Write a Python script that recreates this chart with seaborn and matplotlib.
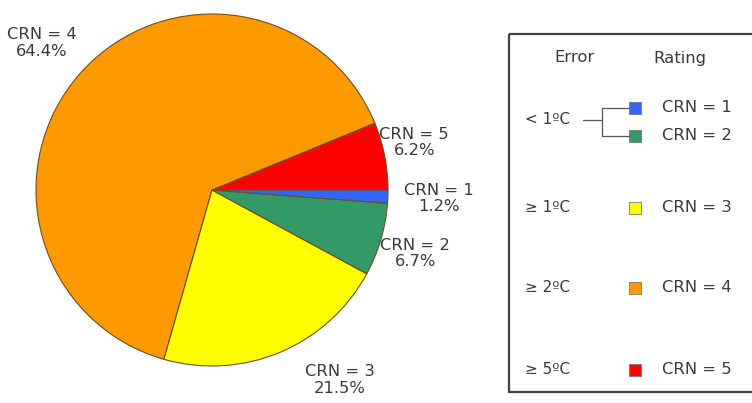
import numpy as np
import matplotlib
matplotlib.use("Agg")
import matplotlib.pyplot as plt
from matplotlib.patches import Rectangle
import seaborn as sns

# data (order = counter-clockwise from 3 o'clock)
ratings = ["CRN = 5", "CRN = 4", "CRN = 3", "CRN = 2", "CRN = 1"]
shares = [6.2, 64.4, 21.5, 6.7, 1.2]
colors = ["#FF0000", "#FF9900", "#FFFF00", "#339966", "#3366FF"]

# legend table
legend_ratings = ["CRN = 1", "CRN = 2", "CRN = 3", "CRN = 4", "CRN = 5"]
legend_colors = ["#3366FF", "#339966", "#FFFF00", "#FF9900", "#FF0000"]
error_labels = ["< 1ºC", "≥ 1ºC", "≥ 2ºC", "≥ 5ºC"]

sns.set_theme(style="white")
plt.rcParams['font.family'] = ['DejaVu Sans']
txt_col = "#3a3a3a"
fs = 11.8

W, H = 752, 403
fig = plt.figure(figsize=(W / 100, H / 100), dpi=100)
fig.patch.set_facecolor("white")

# pie axes: centre ~(212,190) px, radius ~176 px
cx, cy, r = 212, 190, 176
ax = fig.add_axes([(cx - r) / W, (H - cy - r) / H, 2 * r / W, 2 * r / H])
wedges, texts = ax.pie(shares, colors=colors, startangle=0, counterclock=True,
                       labels=[f"{n}\n{v}%" for n, v in zip(ratings, shares)],
                       labeldistance=1.25,
                       wedgeprops=dict(edgecolor="#6b4e1f", linewidth=0.8),
                       textprops=dict(fontsize=fs, color=txt_col, ha="center", va="center",
                                      linespacing=1.1))
ax.set_xlim(-1, 1)
ax.set_ylim(-1, 1)

# nudge label distances / angles to follow the reference
dist = [1.18, 1.28, 1.30, 1.21, 1.29]
dang = [2, 1, 11, -1, 0]
for w, t, d, da in zip(wedges, texts, dist, dang):
    mid = np.deg2rad((w.theta1 + w.theta2) / 2 + da)
    t.set_position((d * np.cos(mid), d * np.sin(mid)))
    t.set_ha("center")

# overlay in pixel coordinates for the legend table
ov = fig.add_axes([0, 0, 1, 1])
ov.set_xlim(0, W)
ov.set_ylim(H, 0)
ov.axis("off")

ov.add_patch(Rectangle((509, 34), 260, 358, fill=False, edgecolor="#444444", linewidth=1.6))
ov.text(575, 58, "Error", fontsize=fs, color=txt_col, ha="center", va="center")
ov.text(680, 58, "Rating", fontsize=fs, color=txt_col, ha="center", va="center")

row_y = [108, 136, 208, 288, 370]
err_y = [120, 208, 288, 370]
for lab, y in zip(error_labels, err_y):
    ov.text(525, y, lab, fontsize=fs - 0.8, color=txt_col, ha="left", va="center")

sq = 12
for lab, col, y in zip(legend_ratings, legend_colors, row_y):
    ov.add_patch(Rectangle((629, y - sq / 2), sq, sq, facecolor=col,
                           edgecolor="#777777", linewidth=0.6))
    ov.text(662, y, lab, fontsize=fs, color=txt_col, ha="left", va="center")

# bracket joining CRN = 1 and CRN = 2 to "< 1ºC"
lc = "#555555"
ov.plot([583, 602], [120, 120], color=lc, lw=0.9)
ov.plot([602, 602], [row_y[0], row_y[1]], color=lc, lw=0.9)
ov.plot([602, 629], [row_y[0], row_y[0]], color=lc, lw=0.9)
ov.plot([602, 629], [row_y[1], row_y[1]], color=lc, lw=0.9)

fig.savefig("out.png", dpi=100, facecolor="white")
